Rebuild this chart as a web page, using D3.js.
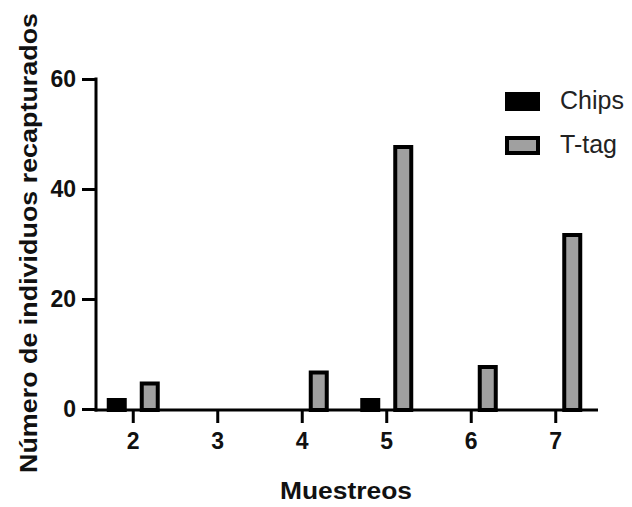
<!DOCTYPE html>
<html>
<head>
<meta charset="utf-8">
<script src="https://cdn.jsdelivr.net/npm/d3@7"></script>
<style>
    body { margin: 0; background: #fff; }
    text { font-family: "Liberation Sans", Arial, sans-serif; }
</style>
</head>
<body>
<div id="holder"></div>
<script>
const samples = ["2", "3", "4", "5", "6", "7"];
const series = ["Chips", "T-tag"];
const chipsValues = [2, 0, 0, 2, 0, 0];
const ttagValues = [5, 0, 7, 48, 8, 32];
const yTicks = [0, 20, 40, 60];
const colors = {"Chips": "#000000", "T-tag": "#a0a0a0"};

const w = 632, h = 507;
const axisX = 96, baseY = 410;

const svg = d3.select('#holder')
    .append('svg')
    .attr('width', w)
    .attr('height', h);

const xScale = d3.scaleBand()
    .domain(samples)
    .range([91, 598]);

const subScale = d3.scalePoint()
    .domain(series)
    .range([-16.5, 16.5]);

const yScale = d3.scaleLinear()
    .domain([0, 60])
    .range([409, 79]);

const rows = samples.flatMap((s, i) => [
    {sample: s, key: "Chips", value: chipsValues[i]},
    {sample: s, key: "T-tag", value: ttagValues[i]}
]).filter(d => d.value > 0);

const barW = 16, sw = 4;

svg.append('g')
    .selectAll('rect')
    .data(rows)
    .enter()
    .append('rect')
    .attr('x', d => xScale(d.sample) + xScale.bandwidth() / 2 + subScale(d.key) - barW / 2)
    .attr('y', d => yScale(d.value) + sw / 2)
    .attr('width', barW)
    .attr('height', d => baseY - yScale(d.value) - sw / 2)
    .style('fill', d => colors[d.key])
    .style('stroke', '#000')
    .style('stroke-width', sw);

const styleTicks = g => {
    g.select('.domain').remove();
    g.selectAll('.tick line').attr('stroke', '#000').attr('stroke-width', 3);
    g.selectAll('.tick text')
        .attr('fill', '#111')
        .style('font-size', '23px')
        .style('font-weight', 'bold')
        .style('font-family', '"Liberation Sans", Arial, sans-serif');
};

// y axis
svg.append('g')
    .attr('id', 'y-axis')
    .attr('transform', `translate(${axisX},0)`)
    .call(d3.axisLeft(yScale)
        .tickValues(yTicks)
        .tickSizeOuter(0)
        .tickSize(14)
        .tickPadding(6))
    .call(styleTicks);

// x axis
svg.append('g')
    .attr('id', 'x-axis')
    .attr('transform', `translate(0,${baseY})`)
    .call(d3.axisBottom(xScale)
        .tickSizeOuter(0)
        .tickSize(13)
        .tickPadding(10))
    .call(styleTicks);

// axis lines
svg.append('line')
    .attr('x1', axisX).attr('x2', axisX)
    .attr('y1', yScale(60) - 1.5).attr('y2', baseY + 1.5)
    .attr('stroke', '#000').attr('stroke-width', 3);

svg.append('line')
    .attr('x1', axisX - 1.5).attr('x2', 598)
    .attr('y1', baseY).attr('y2', baseY)
    .attr('stroke', '#000').attr('stroke-width', 3);

// axis titles
svg.append('text')
    .text('Muestreos')
    .attr('x', 346)
    .attr('y', 499)
    .attr('textLength', 132)
    .attr('lengthAdjust', 'spacingAndGlyphs')
    .style('text-anchor', 'middle')
    .style('font-size', '23px')
    .style('font-weight', 'bold')
    .attr('fill', '#111');

svg.append('text')
    .text('Número de individuos recapturados')
    .attr('transform', 'rotate(-90)')
    .attr('x', -243)
    .attr('y', 37)
    .attr('textLength', 460)
    .attr('lengthAdjust', 'spacingAndGlyphs')
    .style('text-anchor', 'middle')
    .style('font-size', '24px')
    .style('font-weight', 'bold')
    .attr('fill', '#111');

// legend
const legend = svg.append('g')
    .attr('transform', 'translate(505,92)');

legend.selectAll('g')
    .data(series)
    .enter()
    .append('g')
    .attr('transform', (d, i) => `translate(0,${i * 44})`)
    .call(g => {
        g.append('rect')
            .attr('x', 2).attr('y', 2)
            .attr('width', 31).attr('height', 15)
            .style('fill', d => colors[d])
            .style('stroke', '#000')
            .style('stroke-width', sw);
        g.append('text')
            .text(d => d)
            .attr('x', 55)
            .attr('y', 17)
            .style('font-size', '25px')
            .attr('fill', '#222');
    });
</script>
</body>
</html>
